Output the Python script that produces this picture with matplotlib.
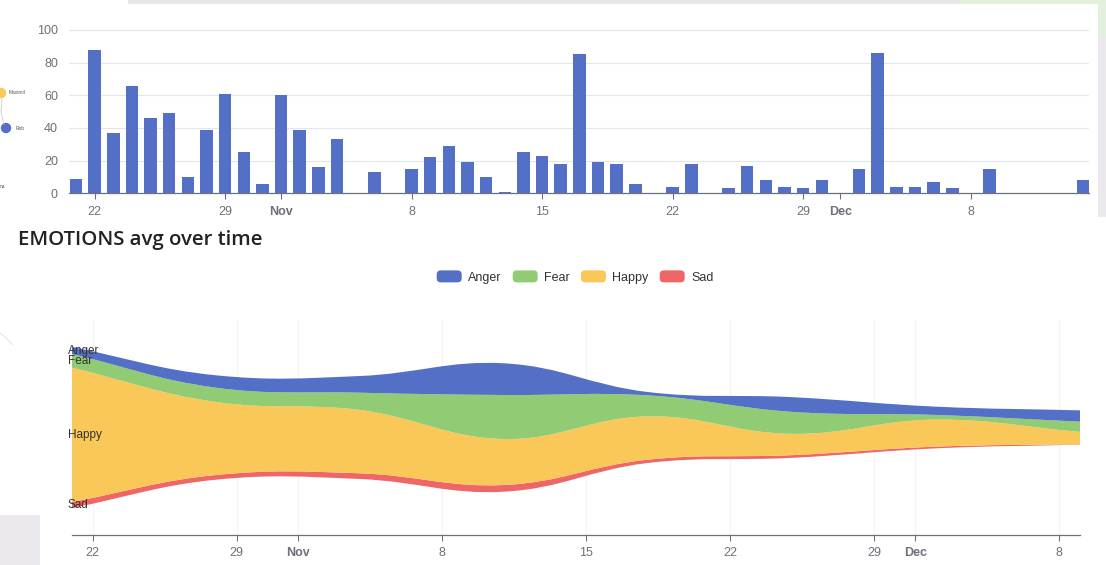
import numpy as np
import matplotlib
matplotlib.use("Agg")
import matplotlib.pyplot as plt
import matplotlib.dates as mdates
from matplotlib.path import Path
from matplotlib.patches import PathPatch, Rectangle, Circle, FancyBboxPatch, Patch
from matplotlib.legend_handler import HandlerBase

# --- data: daily message counts (top bar chart) ---
bar_dates = np.array([
    "2020-10-21", "2020-10-22", "2020-10-23", "2020-10-24", "2020-10-25", "2020-10-26",
    "2020-10-27", "2020-10-28", "2020-10-29", "2020-10-30", "2020-10-31",
    "2020-11-01", "2020-11-02", "2020-11-03", "2020-11-04", "2020-11-06", "2020-11-08",
    "2020-11-09", "2020-11-10", "2020-11-11", "2020-11-12", "2020-11-13", "2020-11-14",
    "2020-11-15", "2020-11-16", "2020-11-17", "2020-11-18", "2020-11-19", "2020-11-20",
    "2020-11-22", "2020-11-23", "2020-11-25", "2020-11-26", "2020-11-27", "2020-11-28",
    "2020-11-29", "2020-11-30", "2020-12-02", "2020-12-03", "2020-12-04", "2020-12-05",
    "2020-12-06", "2020-12-07", "2020-12-09", "2020-12-14"], dtype="datetime64[D]")
bar_counts = [9, 88, 37, 66, 46, 49, 10, 39, 61, 25, 6,
              60, 39, 16, 33, 13, 15, 22, 29, 19, 10, 1, 25,
              23, 18, 85, 19, 18, 6, 4, 18, 3, 17, 8, 4,
              3, 8, 15, 86, 4, 4, 7, 3, 15, 8]

# --- data: weekly emotion averages (theme river) ---
river_dates = np.array(["2020-10-21", "2020-10-28", "2020-11-04", "2020-11-11",
                        "2020-11-18", "2020-11-25", "2020-12-02", "2020-12-09"],
                       dtype="datetime64[D]")
emotions = ["Anger", "Fear", "Happy", "Sad"]
anger = [0.70, 1.24, 1.67, 3.17, 0.33, 1.47, 0.83, 1.13]
fear = [1.37, 1.43, 1.73, 4.40, 2.10, 2.20, 0.47, 1.03]
happy = [13.43, 7.30, 6.33, 4.60, 4.33, 2.13, 2.70, 1.23]
sad = [0.60, 0.47, 0.57, 0.67, 0.33, 0.27, 0.17, 0.04]

tick_dates = np.array(["2020-10-22", "2020-10-29", "2020-11-01", "2020-11-08", "2020-11-15",
                       "2020-11-22", "2020-11-29", "2020-12-01", "2020-12-08"],
                      dtype="datetime64[D]")
tick_labels = ["22", "29", "Nov", "8", "15", "22", "29", "Dec", "8"]

colors = {"Anger": "#5470c6", "Fear": "#91cc75", "Happy": "#fac858", "Sad": "#ee6666"}
AXIS_GREY = "#6E7079"
GRID = "#E0E6F1"

W, H = 1106, 565
plt.rcParams["font.family"] = ["Liberation Sans", "DejaVu Sans"]
fig = plt.figure(figsize=(W / 100, H / 100), dpi=100)


def px_box(left, top, right, bottom):
    return [left / W, 1 - bottom / H, (right - left) / W, (bottom - top) / H]


# background remnants of the dashboard screenshot
bg = fig.add_axes([0, 0, 1, 1], zorder=-5)
bg.set_xlim(0, W)
bg.set_ylim(H, 0)
bg.axis("off")
bg.add_patch(Rectangle((128, 0), 832, 4, color="#e9e7eb", lw=0))
bg.add_patch(Rectangle((960, 0), 146, 4, color="#e2f1de", lw=0))
bg.add_patch(Rectangle((1098, 0), 8, 37, color="#e2f1de", lw=0))
bg.add_patch(Rectangle((1098, 37), 8, 180, color="#ebe8ee", lw=0))
bg.add_patch(Rectangle((0, 515), 40, 50, color="#ebe8ee", lw=0))
bg.plot([2, 1, 4], [98, 112, 124], color="#cccccc", lw=0.6)
bg.plot([0, 6, 13], [333, 338, 345], color="#dddddd", lw=0.6)
bg.add_patch(Circle((1, 93), 4.5, color="#fac858"))
bg.add_patch(Circle((6, 128), 4.5, color="#5470c6"))
bg.text(9, 93, "Maximil", fontsize=3.5, color="#555555", va="center")
bg.text(16, 128, "Rob", fontsize=3.5, color="#555555", va="center")
bg.text(0, 187, "na", fontsize=3.5, color="#555555", va="center")


def style_time_axis(ax):
    ax.set_xticks(tick_dates.astype(object))
    ax.set_xticklabels(tick_labels)
    for lab in ax.get_xticklabels():
        if lab.get_text() in ("Nov", "Dec"):
            lab.set_fontweight("bold")
    ax.tick_params(axis="x", colors=AXIS_GREY, labelsize=9, length=4, width=0.8, pad=5)
    for side in ("top", "right", "left"):
        ax.spines[side].set_visible(False)
    ax.spines["bottom"].set_color(AXIS_GREY)
    ax.spines["bottom"].set_linewidth(0.9)


# --- top: bar chart ---
ax1 = fig.add_axes(px_box(69, 30, 1089, 193.3))
ax1.bar(bar_dates.astype(object), bar_counts, width=0.67, color="#5470c6", zorder=3)
ax1.set_ylim(0, 100)
ax1.set_xlim(np.datetime64("2020-10-22") - np.timedelta64(33, "h"),
             np.datetime64("2020-12-14") + np.timedelta64(8, "h"))
ax1.set_yticks([0, 20, 40, 60, 80, 100])
ax1.yaxis.grid(True, color=GRID, lw=0.8, zorder=0)
ax1.tick_params(axis="y", length=0, colors=AXIS_GREY, labelsize=9, pad=8)
style_time_axis(ax1)

# --- title and legend of the emotion chart ---
fig.text(18 / W, 1 - 240 / H, "EMOTIONS avg over time", fontsize=14.7,
         fontweight="semibold", family=["Open Sans", "DejaVu Sans"], color="#222222",
         va="center", ha="left")


class RoundBoxHandler(HandlerBase):
    def create_artists(self, legend, orig_handle, xdescent, ydescent, width, height,
                       fontsize, trans):
        box = FancyBboxPatch((-xdescent, -ydescent), width, height,
                             boxstyle="round,pad=0,rounding_size=3",
                             fc=orig_handle.get_facecolor(), ec="none", transform=trans)
        return [box]


handles = [Patch(color=colors[e]) for e in emotions]
fig.legend(handles, emotions, loc="center", bbox_to_anchor=(575 / W, 1 - 277 / H),
           ncol=4, frameon=False, fontsize=9, handlelength=2.0, handleheight=1.1,
           handletextpad=0.5, columnspacing=0.9, labelcolor="#333333",
           handler_map={Patch: RoundBoxHandler()})

# --- bottom: theme river ---
ax2 = fig.add_axes(px_box(72, 320, 1080, 535))
xnum = mdates.date2num(river_dates.astype(object))


def smooth_vertices(xs, ys, smooth=0.4):
    # cubic bezier control points in the way echarts smooths its polygons
    pts = np.column_stack([xs, ys])
    n = len(pts)
    cps = []
    for i in range(n):
        prev = pts[max(i - 1, 0)]
        nxt = pts[min(i + 1, n - 1)]
        v = (nxt - prev) * smooth
        d0 = np.hypot(*(pts[i] - prev))
        d1 = np.hypot(*(pts[i] - nxt))
        s = d0 + d1
        if s:
            d0, d1 = d0 / s, d1 / s
        cps.append((pts[i] - v * d0, pts[i] + v * d1))
    verts = [pts[0]]
    for i in range(n - 1):
        verts += [cps[i][1], cps[i + 1][0], pts[i + 1]]
    return verts


layers = {"Anger": np.array(anger), "Fear": np.array(fear),
          "Happy": np.array(happy), "Sad": np.array(sad)}
total = sum(layers.values())
lower = -total / 2
label_y = {}
for name in ["Sad", "Happy", "Fear", "Anger"]:
    upper = lower + layers[name]
    top_v = smooth_vertices(xnum, upper)
    bot_v = smooth_vertices(xnum, lower)[::-1]
    verts = top_v + bot_v + [top_v[0]]
    codes = ([Path.MOVETO] + [Path.CURVE4] * (len(top_v) - 1) + [Path.LINETO]
             + [Path.CURVE4] * (len(bot_v) - 1) + [Path.CLOSEPOLY])
    ax2.add_patch(PathPatch(Path(verts, codes), fc=colors[name], ec="none", zorder=3))
    label_y[name] = (upper[0] + lower[0]) / 2
    lower = upper

for name in emotions:
    ax2.annotate(name, (xnum[0], label_y[name]), xytext=(-3, 0), textcoords="offset points",
                 fontsize=8.5, color="#333333", va="center", ha="left", zorder=5)

half = total.max() * 215 / 161 / 2
ax2.set_ylim(-half, half)
ax2.set_xlim(xnum[0], xnum[-1])
ax2.set_yticks([])
for d in tick_dates.astype(object):
    ax2.axvline(d, color="#f4f4f4", lw=0.8, zorder=0)
style_time_axis(ax2)

fig.savefig("out.png", dpi=100)
